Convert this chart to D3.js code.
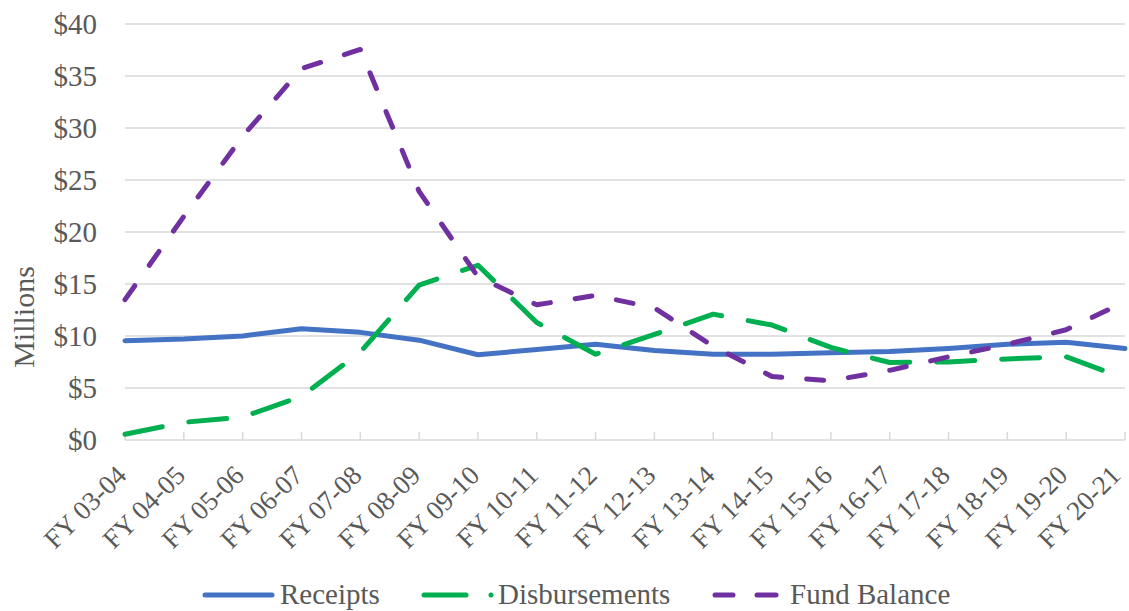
<!DOCTYPE html>
<html>
<head>
<meta charset="utf-8">
<script src="https://cdn.jsdelivr.net/npm/d3@7/dist/d3.min.js"></script>
<style>
  html, body { margin: 0; padding: 0; background: #fff; }
  svg { display: block; }
  text { font-family: "Liberation Serif", "Times New Roman", serif; fill: #595959; }
</style>
</head>
<body>
<svg id="chart" width="1129" height="611"></svg>
<script>
const categories = ["FY 03-04","FY 04-05","FY 05-06","FY 06-07","FY 07-08","FY 08-09","FY 09-10","FY 10-11","FY 11-12","FY 12-13","FY 13-14","FY 14-15","FY 15-16","FY 16-17","FY 17-18","FY 18-19","FY 19-20","FY 20-21"];
const receipts      = [9.55, 9.7, 10.0, 10.7, 10.35, 9.6, 8.2, 8.7, 9.2, 8.6, 8.25, 8.25, 8.4, 8.5, 8.8, 9.2, 9.4, 8.8];
const disbursements = [0.55, 1.7, 2.2, 4.2, 8.45, 14.9, 16.8, 11.3, 8.25, 10.15, 12.1, 11.05, 8.9, 7.45, 7.5, 7.8, 8.0, 5.9];
const fundBalance   = [13.5, 21.5, 29.2, 35.7, 37.55, 23.9, 15.7, 13.0, 13.9, 12.7, 9.0, 6.1, 5.7, 6.7, 8.0, 9.2, 10.6, 13.3];
const yTicks = [0, 5, 10, 15, 20, 25, 30, 35, 40];
const seriesNames = ["Receipts", "Disbursements", "Fund Balance"];

(function () {
const svg = d3.select("#chart");
const pLeft = 125, pRight = 1125, pTop = 24, pBottom = 440;

const x = d3.scalePoint().domain(categories).range([pLeft, pRight]);
const y = d3.scaleLinear().domain([0, 40]).range([pBottom, pTop]);

// gridlines
svg.append("g").selectAll("line").data(yTicks.filter(d => d > 0)).join("line")
  .attr("x1", pLeft).attr("x2", pRight)
  .attr("y1", d => y(d)).attr("y2", d => y(d))
  .attr("stroke", "#d9d9d9").attr("stroke-width", 1.5);

// y tick labels
svg.append("g").selectAll("text").data(yTicks).join("text")
  .attr("x", 97).attr("y", d => y(d) + 9.5)
  .attr("text-anchor", "end")
  .attr("font-size", 29)
  .text(d => "$" + d);

// x axis line + ticks
svg.append("line").attr("x1", pLeft).attr("x2", pRight).attr("y1", pBottom).attr("y2", pBottom)
  .attr("stroke", "#d9d9d9").attr("stroke-width", 1.5);
svg.append("g").selectAll("line").data(categories).join("line")
  .attr("x1", d => x(d)).attr("x2", d => x(d))
  .attr("y1", pBottom).attr("y2", pBottom - 8)
  .attr("stroke", "#d9d9d9").attr("stroke-width", 1.5);

// x labels
svg.append("g").selectAll("text").data(categories).join("text")
  .attr("transform", d => `translate(${Math.min(x(d) + 3, 1122)},${pBottom + 37}) rotate(-45)`)
  .attr("text-anchor", "end")
  .attr("font-size", 27)
  .text(d => d);

// y axis title
svg.append("text")
  .attr("transform", "translate(34,317) rotate(-90)")
  .attr("text-anchor", "middle")
  .attr("font-size", 30)
  .text("Millions");

const line = d3.line().x((d, i) => x(categories[i])).y(d => y(d));

const styles = [
  { data: receipts, color: "#4472C4", dash: null },
  { data: disbursements, color: "#00B050", dash: "38,27" },
  { data: fundBalance, color: "#7030A0", dash: "17,25" }
];

styles.forEach(s => {
  const p = svg.append("path").attr("d", line(s.data))
    .attr("fill", "none").attr("stroke", s.color).attr("stroke-width", 5)
    .attr("stroke-linecap", "round").attr("stroke-linejoin", "round");
  if (s.dash) p.attr("stroke-dasharray", s.dash);
});

// legend
const ly = 595, lty = 604;
const lg = svg.append("g");
lg.append("line").attr("x1", 205).attr("x2", 272).attr("y1", ly).attr("y2", ly)
  .attr("stroke", styles[0].color).attr("stroke-width", 5).attr("stroke-linecap", "round");
lg.append("text").attr("x", 280).attr("y", lty).attr("font-size", 29).text(seriesNames[0]);

lg.append("line").attr("x1", 424).attr("x2", 466).attr("y1", ly).attr("y2", ly)
  .attr("stroke", styles[1].color).attr("stroke-width", 5).attr("stroke-linecap", "round");
lg.append("circle").attr("cx", 491).attr("cy", ly).attr("r", 2.5).attr("fill", styles[1].color);
lg.append("text").attr("x", 498).attr("y", lty).attr("font-size", 29).text(seriesNames[1]);

lg.append("line").attr("x1", 715).attr("x2", 733).attr("y1", ly).attr("y2", ly)
  .attr("stroke", styles[2].color).attr("stroke-width", 5).attr("stroke-linecap", "round");
lg.append("line").attr("x1", 757).attr("x2", 776).attr("y1", ly).attr("y2", ly)
  .attr("stroke", styles[2].color).attr("stroke-width", 5).attr("stroke-linecap", "round");
lg.append("text").attr("x", 790).attr("y", lty).attr("font-size", 29).text(seriesNames[2]);
})();
</script>
</body>
</html>
